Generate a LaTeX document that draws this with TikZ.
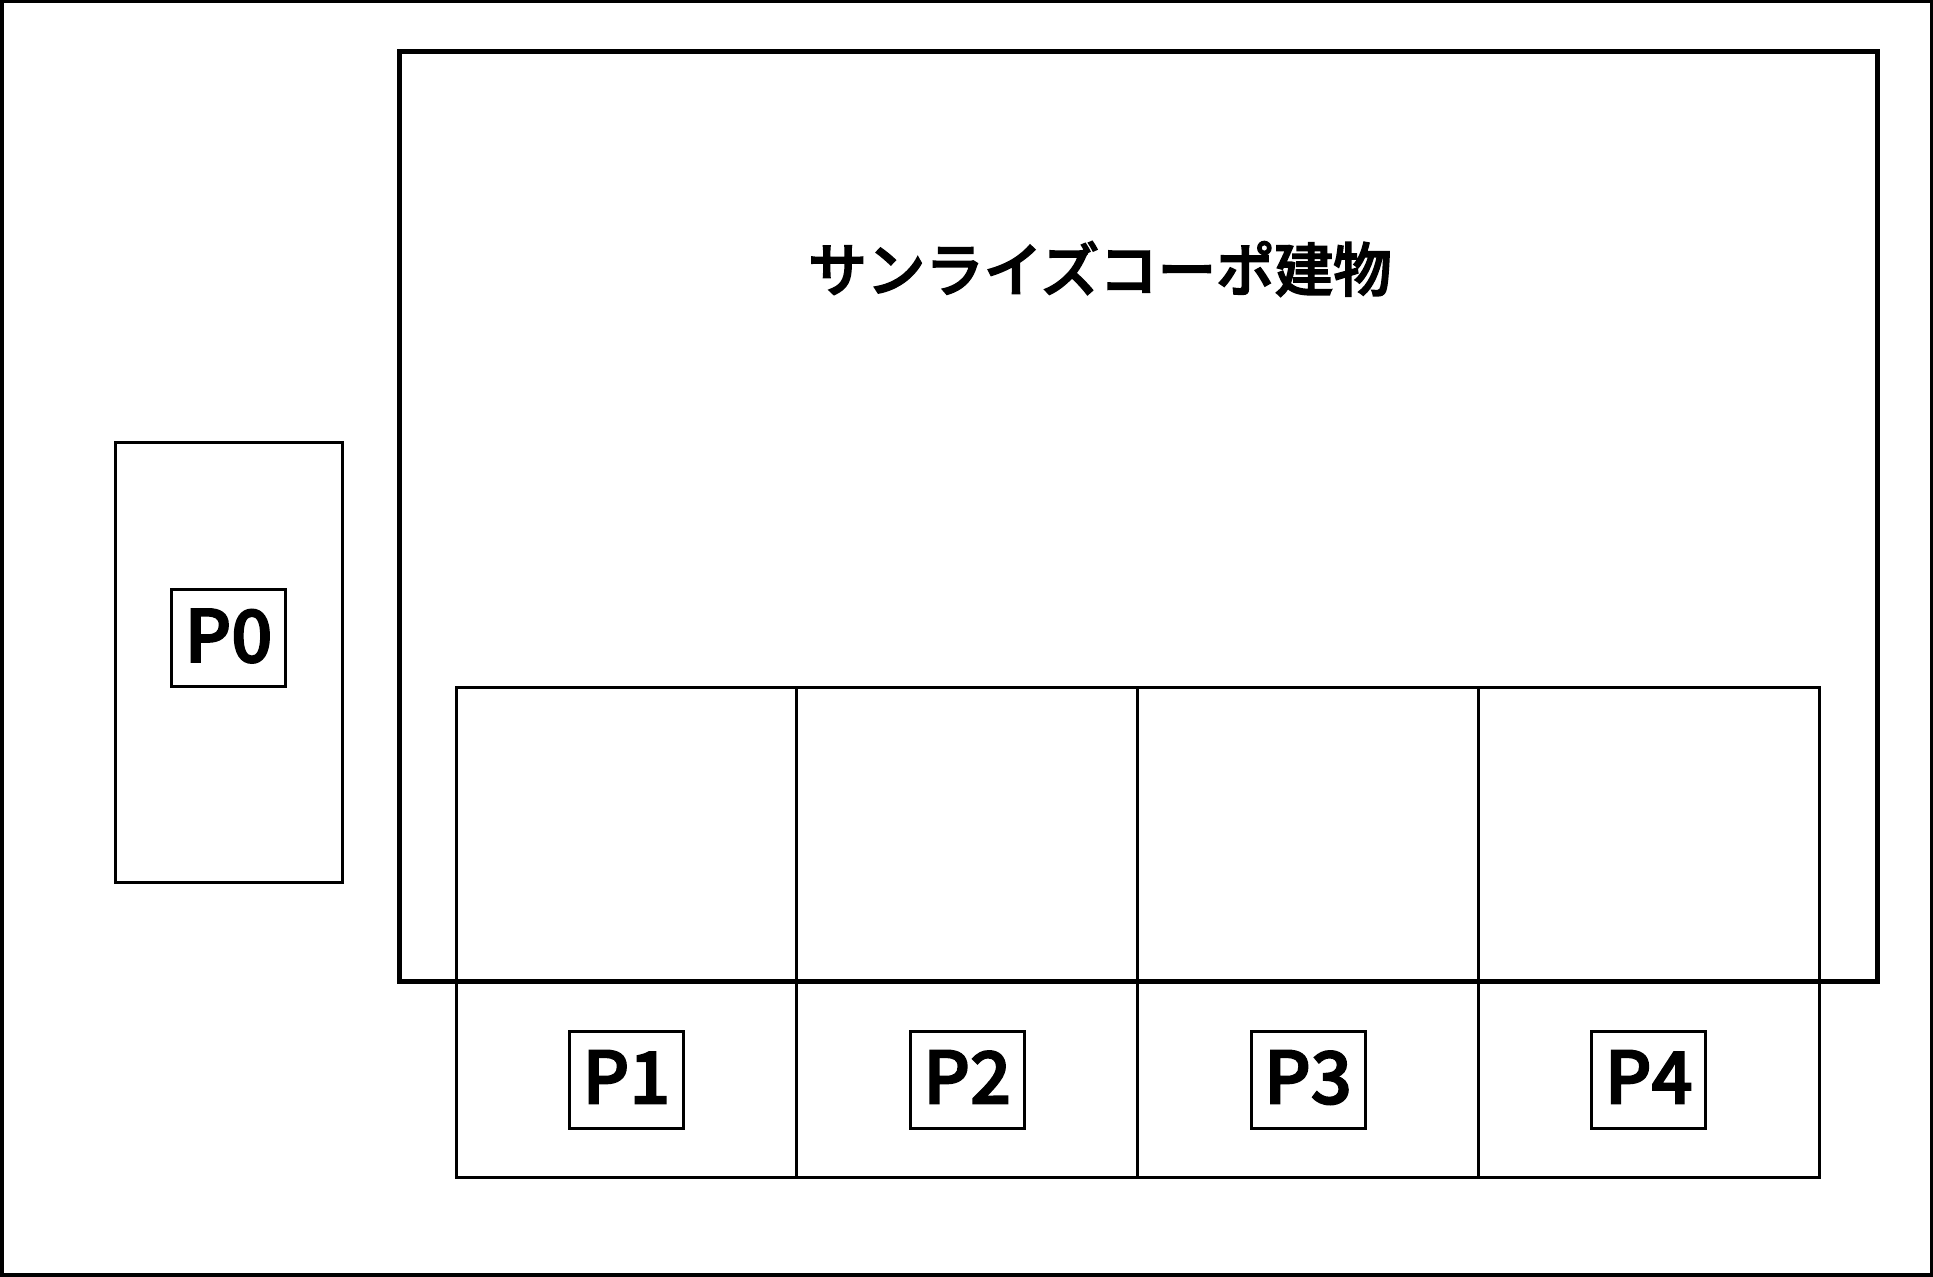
\documentclass[tikz,border=0pt]{standalone}
\usepackage{fontspec}
\usepackage{tikz}
\usetikzlibrary{positioning}
\newfontfamily\jpfont{Noto Sans CJK JP Medium}[FakeBold=2.6]

\begin{document}
\begin{tikzpicture}[
    sitebox/.style={rectangle, draw, line width=0.07cm, minimum width=38.6cm, minimum height=25.47cm},
    buildbox/.style={rectangle, draw, line width=0.1cm, minimum width=29.55cm, minimum height=18.6cm},
    lotbox/.style={rectangle, draw, line width=0.06cm, minimum width=6.815cm, minimum height=9.78cm},
    tagbox/.style={rectangle, draw, line width=0.06cm, minimum width=2.28cm, minimum height=1.94cm, inner sep=0pt, text depth=0.12cm, font=\jpfont\fontsize{41}{41}\selectfont},
    titletext/.style={inner sep=0pt, font=\jpfont\fontsize{33.3}{33.3}\selectfont}
]
    \useasboundingbox (0, 0) rectangle (38.66, 25.52);

    % Site boundary
    \node[sitebox] (site) at (19.34, 12.755) {};

    % Building
    \node[buildbox] (build) at (22.765, 15.18) {};
    \node[titletext] (title) at (22.0, 20.14) {サンライズコーポ建物};

    % Parking P0
    \node[lotbox, minimum width=4.54cm, minimum height=8.79cm] (lot0) at (4.58, 12.265) {};
    \node[tagbox] (tag0) at (4.57, 12.75) {P0};

    % Parking P1 to P4
    \foreach \i in {1,...,4} {
        \node[lotbox] (lot\i) at ({12.53 + (\i-1)*6.815}, 6.87) {};
        \node[tagbox] (tag\i) at ({12.53 + (\i-1)*6.815}, 3.92) {P\i};
    }
\end{tikzpicture}
\end{document}
